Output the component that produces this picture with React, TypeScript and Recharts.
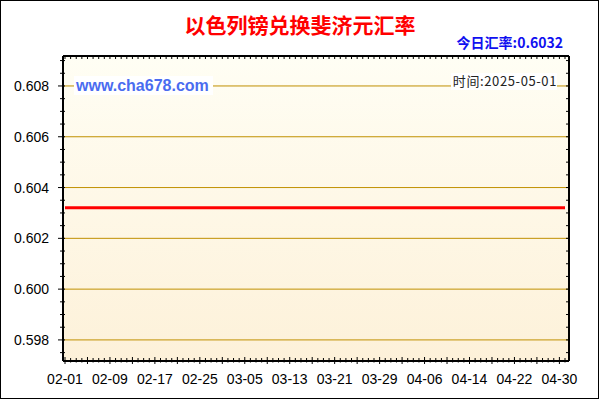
import React from "react";
import {
  LineChart,
  Line,
  XAxis,
  YAxis,
  CartesianGrid,
} from "recharts";

// 每日汇率 02-01 ~ 05-01（以色列镑 -> 斐济元）
const RATES = [
  0.6032, 0.6032, 0.6032, 0.6032, 0.6032, 0.6032, 0.6032, 0.6032, 0.6032, 0.6032,
  0.6032, 0.6032, 0.6032, 0.6032, 0.6032, 0.6032, 0.6032, 0.6032, 0.6032, 0.6032,
  0.6032, 0.6032, 0.6032, 0.6032, 0.6032, 0.6032, 0.6032, 0.6032, 0.6032, 0.6032,
  0.6032, 0.6032, 0.6032, 0.6032, 0.6032, 0.6032, 0.6032, 0.6032, 0.6032, 0.6032,
  0.6032, 0.6032, 0.6032, 0.6032, 0.6032, 0.6032, 0.6032, 0.6032, 0.6032, 0.6032,
  0.6032, 0.6032, 0.6032, 0.6032, 0.6032, 0.6032, 0.6032, 0.6032, 0.6032, 0.6032,
  0.6032, 0.6032, 0.6032, 0.6032, 0.6032, 0.6032, 0.6032, 0.6032, 0.6032, 0.6032,
  0.6032, 0.6032, 0.6032, 0.6032, 0.6032, 0.6032, 0.6032, 0.6032, 0.6032, 0.6032,
  0.6032, 0.6032, 0.6032, 0.6032, 0.6032, 0.6032, 0.6032, 0.6032, 0.6032, 0.6032,
];

const X_LABELS = [
  "02-01", "02-09", "02-17", "02-25", "03-05", "03-13",
  "03-21", "03-29", "04-06", "04-14", "04-22", "04-30",
];

const Y_MAJOR = [0.598, 0.6, 0.602, 0.604, 0.606, 0.608];
const Y_LABELS = ["0.598", "0.600", "0.602", "0.604", "0.606", "0.608"];
const Y_TICKS = [
  0.5975, 0.598, 0.5985, 0.599, 0.5995, 0.6, 0.6005, 0.601, 0.6015, 0.602,
  0.6025, 0.603, 0.6035, 0.604, 0.6045, 0.605, 0.6055, 0.606, 0.6065, 0.607,
  0.6075, 0.608, 0.6085, 0.609,
];

const TITLE = "以色列镑兑换斐济元汇率";
const TODAY = "今日汇率:0.6032";
const SITE = "www.cha678.com";
const TIME = "时间:2025-05-01";

const data = RATES.map((rate, i) => ({ day: i, rate }));
// 每天一个小刻度
const X_TICKS = RATES.map((_, i) => i);

const AXIS_FONT = "'Liberation Sans', Arial, sans-serif";
const CJK_FONT = "'Noto Sans CJK SC', sans-serif";

const findMajor = (v: number) => Y_MAJOR.findIndex((m) => Math.abs(m - v) < 1e-7);

const LeftTick = ({ x, y, payload }: any) => {
  const idx = findMajor(payload.value);
  const major = idx >= 0;
  return (
    <g>
      <line x1={x - (major ? 5 : 3)} x2={x + 2} y1={y} y2={y} stroke="#000" />
      {major && (
        <text x={x - 14} y={y} dy="0.36em" textAnchor="end" fontSize={14} fontFamily={AXIS_FONT} fill="#000">
          {Y_LABELS[idx]}
        </text>
      )}
    </g>
  );
};

const RightTick = ({ x, y }: any) => (
  <line x1={x - 3} x2={x} y1={y} y2={y} stroke="#000" />
);

const BottomTick = ({ x, y, payload }: any) => {
  const d = payload.value;
  const major = d % 4 === 0;
  const label = d % 8 === 0 ? X_LABELS[d / 8] : undefined;
  return (
    <g>
      <line x1={x} x2={x} y1={y - (major ? 4 : 3)} y2={y + (major ? 3 : 1.5)} stroke="#000" />
      {label && (
        <text x={x} y={y + 18} dy="0.36em" textAnchor="middle" fontSize={14} fontFamily={AXIS_FONT} fill="#000">
          {label}
        </text>
      )}
    </g>
  );
};

const TopTick = ({ x, y }: any) => (
  <line x1={x} x2={x} y1={y} y2={y + 3} stroke="#000" />
);

export default function App() {
  const xDomain: [number, number] = [-0.356, 89.71];
  const yDomain: [number, number] = [0.59717, 0.60918];
  const axisLine = { stroke: "#000", strokeWidth: 2 };

  return (
    <div style={{ position: "absolute", left: 0, top: 0, width: 600, height: 400, background: "#fff" }}>
      <LineChart
        width={600}
        height={400}
        data={data}
        margin={{ top: 55, right: 0, bottom: 0, left: 0 }}
      >
        <defs>
          <linearGradient id="bg" x1="0" y1="0" x2="0" y2="1">
            <stop offset="0%" stopColor="#FFFEF4" />
            <stop offset="100%" stopColor="#FDF1D9" />
          </linearGradient>
        </defs>
        <CartesianGrid
          vertical={false}
          horizontalValues={Y_MAJOR}
          stroke="#C09000"
          strokeWidth={1}
          fill="url(#bg)"
          fillOpacity={1}
        />
        <XAxis
          dataKey="day"
          type="number"
          domain={xDomain}
          allowDataOverflow
          ticks={X_TICKS}
          interval={0}
          height={39}
          tickSize={0}
          tickMargin={0}
          tickLine={false}
          axisLine={axisLine}
          tick={<BottomTick />}
        />
        <XAxis
          xAxisId="top"
          orientation="top"
          dataKey="day"
          type="number"
          domain={xDomain}
          allowDataOverflow
          ticks={X_TICKS}
          interval={0}
          height={1}
          tickSize={0}
          tickMargin={0}
          tickLine={false}
          axisLine={axisLine}
          tick={<TopTick />}
        />
        <YAxis
          type="number"
          domain={yDomain}
          allowDataOverflow
          ticks={Y_TICKS}
          interval={0}
          width={63}
          tickSize={0}
          tickMargin={0}
          tickLine={false}
          axisLine={axisLine}
          tick={<LeftTick />}
        />
        <YAxis
          yAxisId="right"
          orientation="right"
          type="number"
          domain={yDomain}
          allowDataOverflow
          ticks={Y_TICKS}
          interval={0}
          width={31}
          tickSize={0}
          tickMargin={0}
          tickLine={false}
          axisLine={axisLine}
          tick={<RightTick />}
        />
        <Line
          type="linear"
          dataKey="rate"
          stroke="#FF0000"
          strokeWidth={3}
          dot={false}
          activeDot={false}
          isAnimationActive={false}
        />
      </LineChart>

      {/* 标题、水印等文字叠加层 */}
      <svg width={600} height={400} style={{ position: "absolute", left: 0, top: 0, pointerEvents: "none" }}>
        <rect x={0.5} y={0.5} width={598} height={398} fill="none" stroke="#000" />
        <text x={300} y={33} textAnchor="middle" fontSize={21} fontWeight="bold" fontFamily={CJK_FONT} fill="#FF0000">
          {TITLE}
        </text>
        <text x={563} y={48} textAnchor="end" fontSize={14} fontWeight="bold" fontFamily={CJK_FONT} fill="#1010F0">
          {TODAY}
        </text>
        <rect x={74} y={76} width={139} height={19} fill="#fff" />
        <text x={76} y={91} fontSize={16} fontWeight="bold" fontFamily={AXIS_FONT} fill="#4A6CF0">
          {SITE}
        </text>
        <rect x={451} y={73} width={106} height={17} fill="#fff" />
        <text x={557} y={86} textAnchor="end" fontSize={13} letterSpacing={0.6} fontFamily={CJK_FONT} fill="#222">
          {TIME}
        </text>
      </svg>
    </div>
  );
}
